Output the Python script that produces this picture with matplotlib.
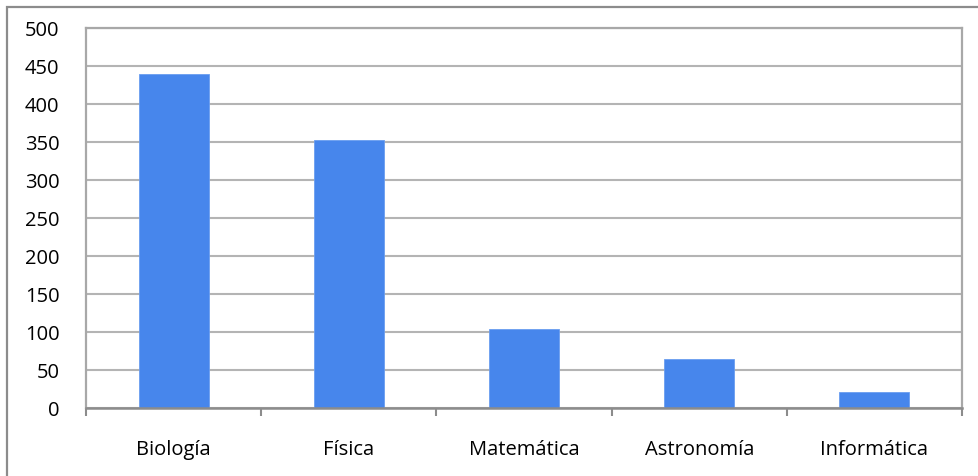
import numpy as np
import matplotlib
matplotlib.use("Agg")
import matplotlib.pyplot as plt
from matplotlib.patches import Rectangle

# Área de conocimiento y número de registros
areas = ["Biología", "Física", "Matemática", "Astronomía", "Informática"]
valores = [440, 352, 104, 64, 21]
y_ticks = [0, 50, 100, 150, 200, 250, 300, 350, 400, 450, 500]

plt.rcParams["font.family"] = ["Open Sans", "DejaVu Sans"]

W, H = 979, 477
fig = plt.figure(figsize=(W / 100, H / 100), dpi=100)
fig.patch.set_facecolor("white")

# marco exterior del gráfico
fig.patches.append(Rectangle((7 / W, -0.1), 1.2, 1 - 7.5 / H + 0.1,
                             transform=fig.transFigure, fill=False,
                             edgecolor="#8c8c8c", lw=1.6))

left, right, top, bottom = 86, 962, 29, 409
ax = fig.add_axes([left / W, 1 - bottom / H, (right - left) / W, (bottom - top) / H])

x = np.arange(len(areas))
ax.bar(x, valores, width=0.4, color="#4786EC", edgecolor="#6a9ef0",
       linewidth=0.6, zorder=3)

ax.set_xlim(-0.5, len(areas) - 0.5)
ax.set_ylim(0, 500)
ax.set_yticks(y_ticks)
ax.yaxis.grid(True, color="#b4b4b4", lw=1.5, zorder=0)

ax.set_xticks(x)
ax.set_xticklabels(areas, fontsize=14.5)
ax.set_xticks(np.arange(len(areas) + 1) - 0.5, minor=True)
ax.tick_params(axis="x", which="major", length=0, pad=22)
ax.tick_params(axis="x", which="minor", length=6, width=1.5, color="#8c8c8c")
ax.tick_params(axis="y", length=0, pad=19, labelsize=14.5)

for side in ["left", "top", "right"]:
    ax.spines[side].set_color("#a8a8a8")
    ax.spines[side].set_linewidth(1.6)
ax.spines["bottom"].set_color("#8c8c8c")
ax.spines["bottom"].set_linewidth(1.8)
ax.spines["bottom"].set_zorder(4)

fig.savefig("out.png", dpi=100)
